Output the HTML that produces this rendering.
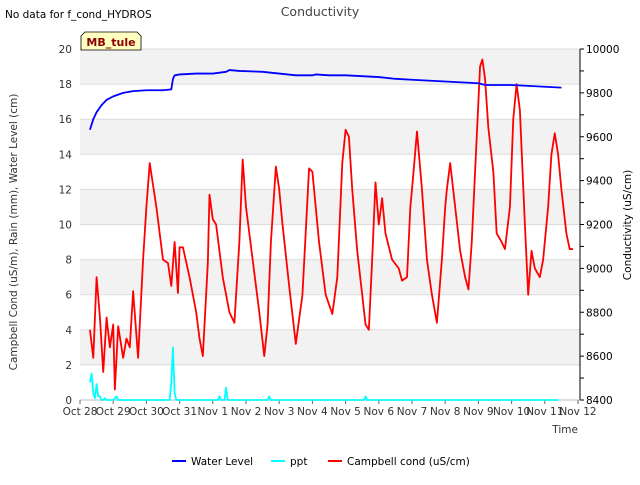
<!DOCTYPE html>
<html><head><meta charset="utf-8"><style>
body{margin:0;background:#fff;}
svg{font-family:"DejaVu Sans","Liberation Sans",sans-serif;}
</style></head><body>
<svg id="c" width="640" height="480" viewBox="0 0 640 480">
<text x="5" y="18" font-size="10.5" fill="#000">No data for f_cond_HYDROS</text>
<text x="320" y="16" font-size="12.5" fill="#444" text-anchor="middle">Conductivity</text>
<g id="bands"></g>
<g id="axes"></g>
<g id="series"></g>
<g>
<path d="M81,50 L81,36 L85,32 L137,32 L141,36 L141,50 Z" fill="#ffffc0" stroke="#000" stroke-width="0.8"/>
<text x="111" y="46" font-size="11" font-weight="bold" fill="#8b0000" text-anchor="middle">MB_tule</text>
</g>
<text transform="translate(17,232) rotate(-90)" font-size="10.5" text-anchor="middle" fill="#333">Campbell Cond (uS/m), Rain (mm), Water Level (cm)</text>
<text transform="translate(631,225) rotate(-90)" font-size="10.5" text-anchor="middle" fill="#000">Conductivity (uS/cm)</text>
<text x="578" y="433" font-size="10.5" text-anchor="end" fill="#333">Time</text>
<g font-size="10.5">
<g><line x1="172" y1="461" x2="186" y2="461" stroke="#0000ff" stroke-width="2"/><text x="191" y="465">Water Level</text></g>
<g><line x1="271" y1="461" x2="285" y2="461" stroke="#00ffff" stroke-width="2"/><text x="290" y="465">ppt</text></g>
<g><line x1="328" y1="461" x2="342" y2="461" stroke="#ff0000" stroke-width="2"/><text x="347" y="465">Campbell cond (uS/cm)</text></g>
</g>
</svg>
<script>
const xTickLabels=["Oct 28","Oct 29","Oct 30","Oct 31","Nov 1","Nov 2","Nov 3","Nov 4","Nov 5","Nov 6","Nov 7","Nov 8","Nov 9","Nov 10","Nov 11","Nov 12"];
const leftTicks=[0,2,4,6,8,10,12,14,16,18,20];
const rightTicks=[8400,8600,8800,9000,9200,9400,9600,9800,10000];
const wlDays=[0.3,0.4,0.5,0.65,0.8,1.0,1.3,1.6,2.0,2.5,2.75,2.8,2.85,3.0,3.5,4.0,4.4,4.5,4.8,5.5,6.0,6.5,7.0,7.1,7.5,8.0,8.5,9.0,9.5,10.0,10.5,11.0,11.5,12.0,12.2,13.0,13.5,14.0,14.5];
const wlVals=[15.4,16.0,16.4,16.8,17.1,17.3,17.5,17.6,17.65,17.65,17.7,18.3,18.5,18.55,18.6,18.6,18.7,18.8,18.75,18.7,18.6,18.5,18.5,18.55,18.5,18.5,18.45,18.4,18.3,18.25,18.2,18.15,18.1,18.05,17.95,17.95,17.9,17.85,17.8];
const pptDays=[0.3,0.35,0.4,0.45,0.5,0.55,0.6,0.65,0.7,0.75,0.8,0.85,0.9,0.95,1.0,1.05,1.1,1.15,2.7,2.75,2.8,2.85,2.9,4.15,4.2,4.25,4.35,4.4,4.45,5.65,5.7,5.75,8.55,8.6,8.65,14.4];
const pptVals=[1.0,1.5,0.4,0.1,0.9,0.2,0.2,0,0,0.1,0,0,0,0,0,0.1,0.2,0,0,1.0,3.0,0.4,0,0,0.2,0,0,0.7,0,0,0.2,0,0,0.2,0,0];
const condDays=[0.3,0.4,0.5,0.6,0.7,0.8,0.9,1.0,1.05,1.15,1.3,1.4,1.5,1.6,1.75,1.9,2.0,2.1,2.3,2.5,2.65,2.75,2.85,2.95,3.0,3.1,3.3,3.5,3.6,3.7,3.85,3.9,4.0,4.1,4.3,4.5,4.65,4.8,4.9,5.0,5.2,5.4,5.55,5.65,5.75,5.9,6.0,6.1,6.3,6.5,6.7,6.9,7.0,7.2,7.4,7.6,7.75,7.9,8.0,8.1,8.2,8.35,8.5,8.6,8.7,8.8,8.9,9.0,9.1,9.2,9.4,9.6,9.7,9.85,9.95,10.0,10.15,10.3,10.45,10.6,10.75,10.9,11.0,11.05,11.15,11.3,11.45,11.6,11.7,11.8,11.95,12.05,12.12,12.2,12.3,12.45,12.55,12.7,12.8,12.95,13.05,13.15,13.25,13.4,13.5,13.6,13.7,13.85,13.95,14.1,14.2,14.3,14.4,14.5,14.65,14.75,14.85];
const condVals=[4,2.4,7,4.7,1.6,4.7,3,4.3,0.6,4.2,2.4,3.5,3,6.2,2.4,8,11,13.5,11,8,7.8,6.5,9,6.1,8.7,8.7,7,5,3.5,2.5,7.8,11.7,10.3,10,7,5,4.4,9,13.7,11,8,5,2.5,4.3,9,13.3,12,10,6.5,3.2,6,13.2,13,9,6,4.9,7,13.5,15.4,15,12,8.5,6,4.3,4,8,12.4,10,11.5,9.5,8,7.5,6.8,7,11,12,15.3,12,8,6,4.4,8,11,12,13.5,11,8.5,7,6.3,9,15,19,19.4,18.3,15.5,13,9.5,9,8.6,11,16,18,16.5,10,6,8.5,7.5,7,8,11,14,15.2,14,12,9.5,8.6,8.6];
const L=80,R=580,T=49,B=400,NS="http://www.w3.org/2000/svg";
const xS=d=>L+d*33.2;
const yS=v=>B-(v/20)*(B-T);
const yR=v=>B-((v-8400)/1600)*(B-T);
function mk(tag,attrs,parent){const e=document.createElementNS(NS,tag);for(const k in attrs)e.setAttribute(k,attrs[k]);parent.appendChild(e);return e;}
const bands=document.getElementById('bands'),axes=document.getElementById('axes'),ser=document.getElementById('series');
for(let i=0;i<leftTicks.length-1;i++){
 const r=mk('rect',{x:L,y:yS(leftTicks[i+1]),width:R-L,height:yS(leftTicks[i])-yS(leftTicks[i+1]),fill:i%2===1?'#f2f2f2':'#ffffff'},bands);
 
 
}
leftTicks.forEach(v=>{
 const g=mk('line',{x1:L,x2:R,y1:yS(v),y2:yS(v),stroke:'#dcdcdc','stroke-width':1},axes);
 
 
 const t=mk('text',{x:L-8,y:yS(v)+4,'font-size':10.5,'text-anchor':'end',fill:'#333'},axes);t.textContent=v;
 
 
});
for(let v=8400;v<=10000;v+=100){mk('line',{x1:R,x2:R+4,y1:yR(v),y2:yR(v),stroke:'#000'},axes);}
rightTicks.forEach(v=>{
 const t=mk('text',{x:R+6,y:yR(v)+4,'font-size':10.5,fill:'#000'},axes);t.textContent=v;
 
 
});
mk('line',{x1:R,x2:R,y1:T,y2:B,stroke:'#000'},axes);
mk('line',{x1:L,x2:R,y1:B,y2:B,stroke:'#bbb'},axes);
xTickLabels.forEach((s,i)=>{
 mk('line',{x1:xS(i),x2:xS(i),y1:B,y2:B+4,stroke:'#666'},axes);
 const t=mk('text',{x:xS(i),y:B+15,'font-size':10.5,'text-anchor':'middle',fill:'#333'},axes);t.textContent=s;
 
 
});
function line(days,vals,color,name){
 const p=mk('polyline',{points:days.map((d,i)=>xS(d)+','+yS(vals[i])).join(' '),fill:'none',stroke:color,'stroke-width':1.8,'stroke-linejoin':'round'},ser);
 
 
}
line(pptDays,pptVals,'#00ffff','ppt-line');
line(condDays,condVals,'#ff0000','campbell-cond-line');
line(wlDays,wlVals,'#0000ff','water-level-line');
</script>
</body></html>
